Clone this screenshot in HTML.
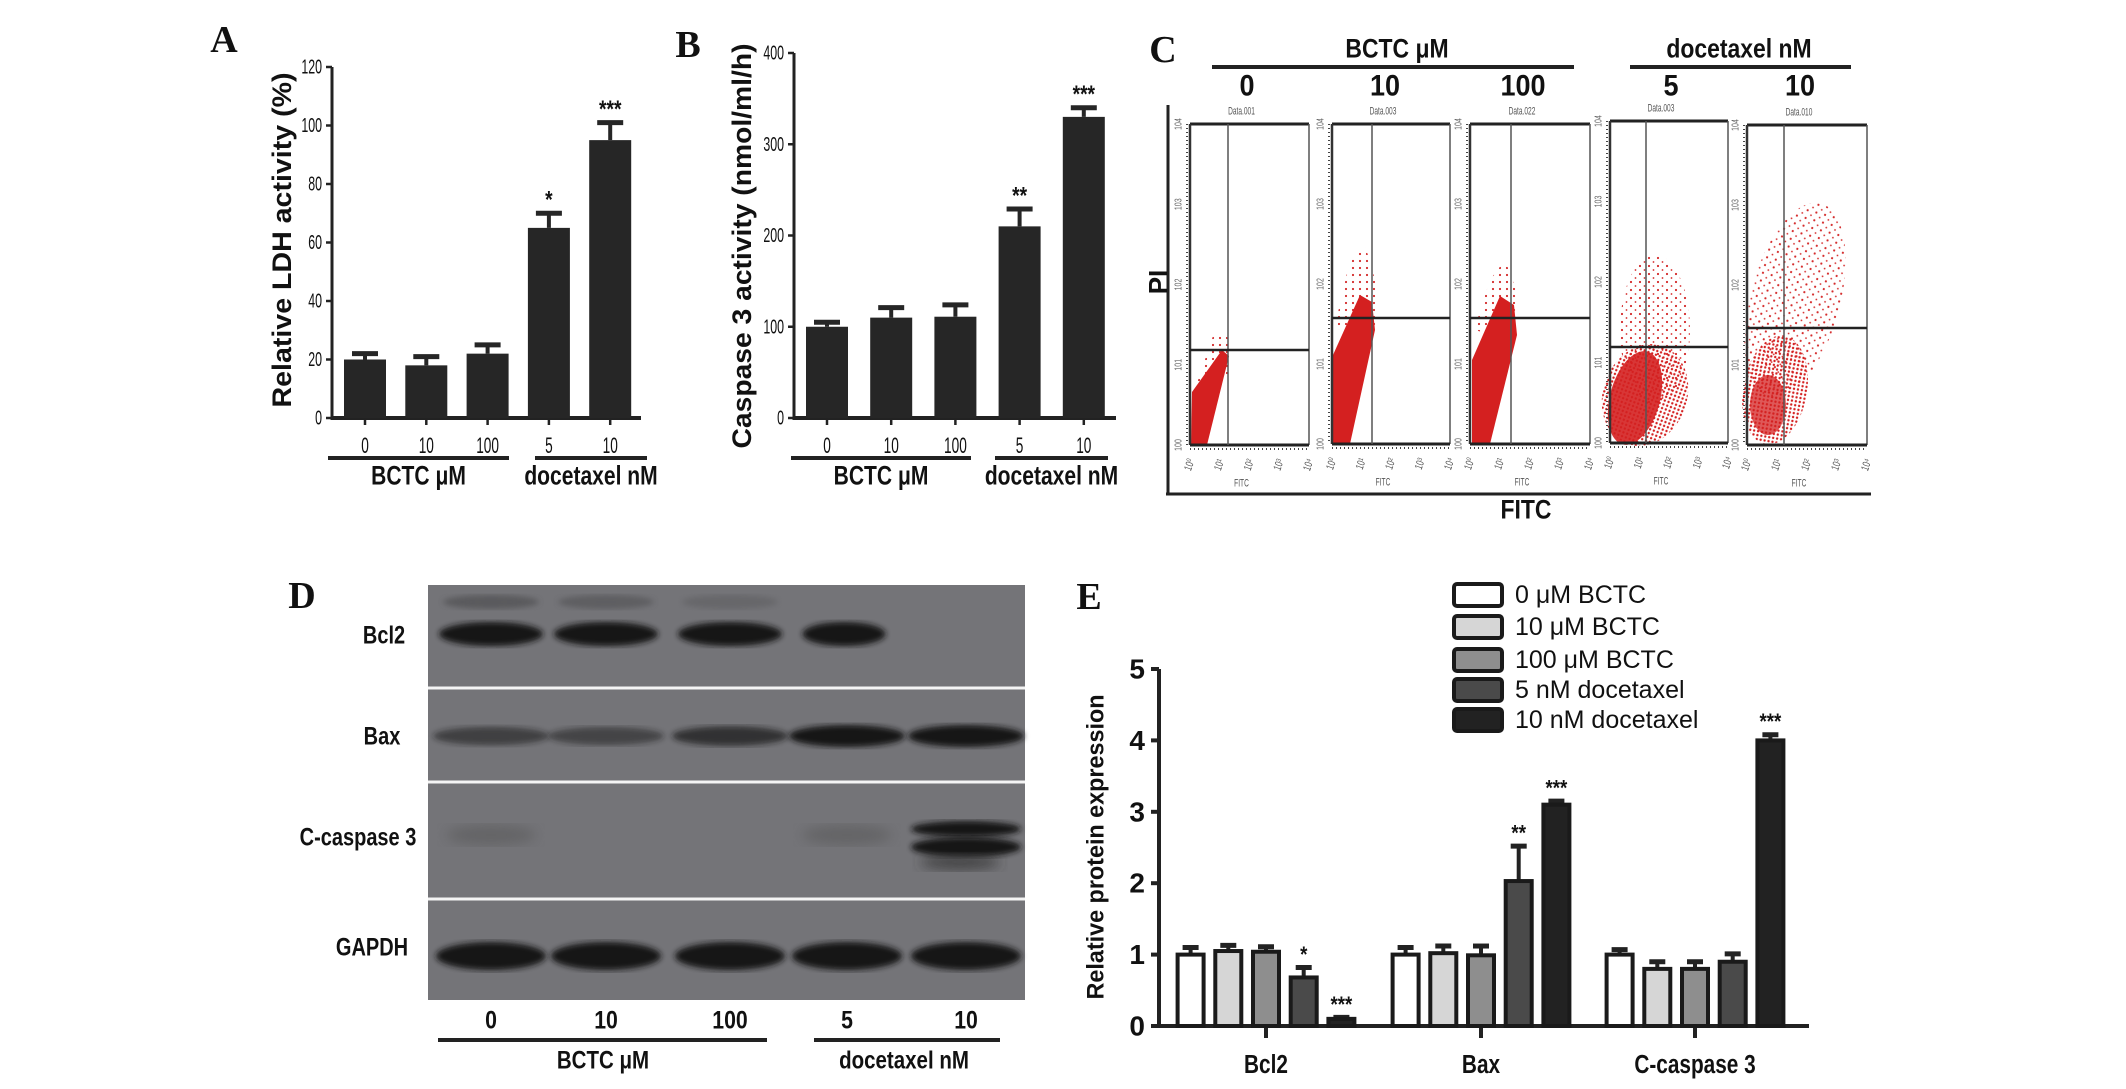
<!DOCTYPE html>
<html><head><meta charset="utf-8">
<style>
html,body{margin:0;padding:0;background:#fff;}
svg{display:block;font-family:"Liberation Sans",sans-serif;}
</style></head>
<body>
<svg id="fig" width="2126" height="1089" viewBox="0 0 2126 1089" xmlns="http://www.w3.org/2000/svg">
<defs>
<pattern id="sparse" width="7" height="7" patternUnits="userSpaceOnUse"><circle cx="2" cy="2" r="1.1" fill="#d42a2a"/></pattern>
<pattern id="sparse2" width="9" height="8" patternUnits="userSpaceOnUse"><circle cx="2" cy="2" r="1.1" fill="#d42a2a"/><circle cx="6.5" cy="6" r="0.9" fill="#d42a2a"/></pattern>
<pattern id="mid" width="4" height="4" patternUnits="userSpaceOnUse"><circle cx="1.5" cy="1.5" r="1.2" fill="#d42020"/></pattern>
<filter id="blur3"><feGaussianBlur stdDeviation="3"/></filter>
<filter id="blur6"><feGaussianBlur stdDeviation="6"/></filter>
</defs>
</svg>
<script>
// ---------- Panel A data ----------
const aCats = ["0","10","100","5","10"];
const aVals = [20,18,22,65,95];
const aErr = [2,3,3,5,6];
const aStars = ["","","","*","***"];
const aTicks = [0,20,40,60,80,100,120];
// ---------- Panel B data ----------
const bCats = ["0","10","100","5","10"];
const bVals = [100,110,111,210,330];
const bErr = [5,11,13,19,10];
const bStars = ["","","","**","***"];
const bTicks = [0,100,200,300,400];
// ---------- Panel E data ----------
const eGroups = ["Bcl2","Bax","C-caspase 3"];
const eSeries = ["0 μM BCTC","10 μM BCTC","100 μM BCTC","5 nM docetaxel","10 nM docetaxel"];
const eBcl2 = [1.0,1.05,1.04,0.68,0.1];
const eBax = [1.0,1.02,0.99,2.03,3.1];
const eCasp = [1.0,0.8,0.8,0.9,4.0];
const eBcl2Err = [0.1,0.08,0.07,0.14,0.02];
const eBaxErr = [0.1,0.1,0.13,0.49,0.05];
const eCaspErr = [0.07,0.1,0.1,0.11,0.08];
const eBcl2Stars = ["","","","*","***"];
const eBaxStars = ["","","","**","***"];
const eCaspStars = ["","","","","***"];
const eTicks = [0,1,2,3,4,5];

const NS="http://www.w3.org/2000/svg";
const svg=document.getElementById('fig');
function mk(tag,attrs,parent){const e=document.createElementNS(NS,tag);for(const k in attrs)e.setAttribute(k,attrs[k]);(parent||svg).appendChild(e);return e;}
function txt(x,y,s,size,opt){opt=opt||{};
  const g=mk('g',{transform:`translate(${x},${y})`+(opt.rot?` rotate(${opt.rot})`:'')+` scale(${opt.sx||1},1)`},opt.parent);
  const t=mk('text',{x:0,y:0,'font-size':size,'font-weight':opt.w||'bold','text-anchor':opt.a||'middle','dominant-baseline':'central',fill:opt.fill||'#111','font-family':opt.serif?'"Liberation Serif",serif':'"Liberation Sans",sans-serif'},g);
  if(opt.len){t.setAttribute('textLength',opt.len);t.setAttribute('lengthAdjust','spacingAndGlyphs');}
  t.textContent=s;return t;}
function line(x1,y1,x2,y2,w,c,p){return mk('line',{x1,y1,x2,y2,stroke:c||'#222','stroke-width':w||3},p);}

function barPanel(cfg){
  const g=mk('g',{});
  
  
  const y=v=>cfg.y0-(v/cfg.max)*(cfg.y0-cfg.yTop);
  const L=txt(cfg.letterX,cfg.letterY,cfg.letter,38,{serif:true,parent:g});
  
  line(cfg.ax,cfg.yTop,cfg.ax,cfg.y0+2,3,'#222',g);
  line(cfg.ax,cfg.y0,cfg.axEnd,cfg.y0,4,'#222',g);
  cfg.ticks.forEach(t=>{line(cfg.ax-6,y(t),cfg.ax,y(t),2.5,'#222',g);
    const tl=txt(cfg.ax-10,y(t),String(t),20,{a:'end',sx:0.62,w:'normal',parent:g});
    });
  const yl=txt(cfg.ylX,cfg.ylY,cfg.ylabel,27,{rot:-90,len:cfg.ylLen,parent:g});
  
  cfg.vals.forEach((v,i)=>{
    const cx=cfg.x0+i*cfg.step, bw=42;
    const r=mk('rect',{x:cx-bw/2,y:y(v),width:bw,height:cfg.y0-y(v),fill:'#262626'},g);
    
    const et=y(v+cfg.err[i]);
    line(cx,y(v),cx,et,4,'#262626',g);line(cx-13,et,cx+13,et,5,'#262626',g);
    if(cfg.stars[i]){const s=txt(cx,et-14,cfg.stars[i],24,{sx:0.8,parent:g});}
    line(cx,cfg.y0,cx,cfg.y0+7,2.5,'#222',g);
    const c=txt(cx,cfg.y0+27,cfg.cats[i],22,{sx:0.62,w:'normal',parent:g});
    
  });
  line(cfg.g1[0],cfg.lineY,cfg.g1[1],cfg.lineY,4,'#222',g);
  line(cfg.g2[0],cfg.lineY,cfg.g2[1],cfg.lineY,4,'#222',g);
  const g1=txt((cfg.g1[0]+cfg.g1[1])/2,cfg.lineY+18,'BCTC μM',27,{sx:0.78,parent:g});
  
  const g2=txt((cfg.g2[0]+cfg.g2[1])/2,cfg.lineY+18,'docetaxel nM',27,{sx:0.78,parent:g});
  
}
barPanel({name:'panel-a-ldh-chart',letter:'A',letterX:224,letterY:40,ax:332,yTop:67,y0:418,axEnd:641,max:120,ticks:aTicks,
  vals:aVals,err:aErr,stars:aStars,cats:aCats,x0:365,step:61.3,ylabel:'Relative LDH activity (%)',ylX:282,ylY:240,ylLen:335,
  g1:[328,509],g2:[535,647],lineY:458});
barPanel({name:'panel-b-caspase-chart',letter:'B',letterX:688,letterY:45,ax:794,yTop:53,y0:418,axEnd:1116,max:400,ticks:bTicks,
  vals:bVals,err:bErr,stars:bStars,cats:bCats,x0:827,step:64.2,ylabel:'Caspase 3 activity (nmol/ml/h)',ylX:742,ylY:246,ylLen:405,
  g1:[791,971],g2:[995,1108],lineY:458});

(function(){
  const g=mk('g',{});
  
  
  const L=txt(1163,50,'C',38,{serif:true,parent:g});
  const t1=txt(1397,49,'BCTC μM',27,{sx:0.85,parent:g});
  const t2=txt(1739,49,'docetaxel nM',27,{sx:0.85,parent:g});
  line(1212,67,1574,67,4,'#222',g);line(1630,67,1851,67,4,'#222',g);
  const nums=['0','10','100','5','10'], nx=[1247,1385,1523,1671,1800];
  nums.forEach((n,i)=>{const e=txt(nx[i],86,n,30,{sx:0.9,parent:g});});
  line(1168,105,1168,495,3,'#222',g);line(1166,494,1871,494,3,'#222',g);
  const pi=txt(1158,282,'PI',26,{rot:-90,parent:g});
  const fi=txt(1526,510,'FITC',27,{sx:0.85,parent:g});
  const plots=[
    {x:1190,r:1309,t:124,b:445,gx:1228,gy:350,d:'Data.001'},
    {x:1332,r:1450,t:124,b:444,gx:1372,gy:318,d:'Data.003'},
    {x:1470,r:1590,t:124,b:444,gx:1511,gy:318,d:'Data.022'},
    {x:1610,r:1728,t:121,b:443,gx:1646,gy:347,d:'Data.003'},
    {x:1747,r:1867,t:125,b:445,gx:1784,gy:328,d:'Data.010'}];
  const clouds=[
    ()=>{mk('polygon',{points:'1193,395 1215,330 1232,340 1230,370 1212,400',fill:'url(#sparse)'},g);
         mk('polygon',{points:'1191,445 1207,445 1229,356 1222,350 1192,392',fill:'#d42020'},g);},
    ()=>{mk('polygon',{points:'1334,330 1350,260 1365,245 1378,290 1378,330',fill:'url(#sparse)'},g);
         mk('polygon',{points:'1333,444 1350,444 1375,330 1372,302 1360,295 1333,355',fill:'#d42020'},g);},
    ()=>{mk('polygon',{points:'1474,330 1490,280 1505,260 1520,300 1516,340',fill:'url(#sparse)'},g);
         mk('polygon',{points:'1472,444 1490,444 1517,335 1514,305 1500,296 1472,360',fill:'#d42020'},g);},
    ()=>{mk('ellipse',{cx:1655,cy:330,rx:35,ry:75,fill:'url(#sparse2)'},g);
         mk('ellipse',{cx:1645,cy:395,rx:42,ry:52,fill:'url(#mid)',transform:'rotate(20 1645 395)'},g);
         mk('ellipse',{cx:1635,cy:398,rx:25,ry:48,fill:'#d42020',opacity:0.9,transform:'rotate(15 1635 398)'},g);},
    ()=>{mk('ellipse',{cx:1795,cy:300,rx:45,ry:100,fill:'url(#sparse2)',transform:'rotate(15 1795 300)'},g);
         mk('ellipse',{cx:1775,cy:390,rx:32,ry:55,fill:'url(#mid)',transform:'rotate(10 1775 390)'},g);
         mk('ellipse',{cx:1768,cy:405,rx:18,ry:30,fill:'#d42020',opacity:0.75},g);}];
  plots.forEach((p,i)=>{
    const pg=mk('g',{},g);
    
    
    clouds[i]();
    line(p.x,p.t,p.r,p.t,3,'#222',g);line(p.r,p.t,p.r,p.b,1.5,'#555',g);
    line(p.x,p.t,p.x,p.b,2.5,'#333',g);line(p.x,p.b,p.r,p.b,3,'#222',g);
    line(p.gx,p.t,p.gx,p.b,1.5,'#555',g);line(p.x,p.gy,p.r,p.gy,2.5,'#222',g);
    mk('line',{x1:p.x-3,y1:p.t,x2:p.x-3,y2:p.b,stroke:'#444','stroke-width':2,'stroke-dasharray':'1 3'},g);
    mk('line',{x1:p.x,y1:p.b+4,x2:p.r,y2:p.b+4,stroke:'#444','stroke-width':2,'stroke-dasharray':'1 3'},g);
    txt((p.x+p.r)/2-8,p.t-13,p.d,11,{sx:0.6,w:'normal',fill:'#555',parent:g});
    ['10⁰','10¹','10²','10³','10⁴'].forEach((s,k)=>txt(p.x+k*(p.r-p.x)/4,p.b+20,s,11,{sx:0.7,w:'normal',fill:'#555',rot:-70,parent:g}));
    txt((p.x+p.r)/2-8,p.b+38,'FITC',11,{sx:0.6,w:'normal',fill:'#555',parent:g});
    [0,1,2,3,4].forEach(k=>txt(p.x-12,p.b-k*(p.b-p.t)/4,'10'+k,10,{sx:0.7,w:'normal',fill:'#666',rot:-90,parent:g}));
  });
})();

(function(){
  const g=mk('g',{});
  
  
  const L=txt(302,596,'D',38,{serif:true,parent:g});
  mk('rect',{x:428,y:585,width:597,height:415,fill:'#747478'},g);
  [688,782,899].forEach(y=>line(428,y,1025,y,3,'#f4f4f4',g));
  const lanes=[491,606,730,847,966];
  const dark='#161616';
  [491,606,730].forEach((x,i)=>mk('ellipse',{cx:x,cy:602,rx:48,ry:7,fill:'#4a4a4c',opacity:[0.6,0.5,0.3][i],filter:'url(#blur3)'},g));
  const bcl=[1,1,1,0.8,0];
  lanes.forEach((x,i)=>{if(bcl[i]>0)mk('ellipse',{cx:x+(i==3?-3:0),cy:634,rx:bcl[i]*52,ry:12,fill:dark,filter:'url(#blur3)'},g);});
  const bax=[0.55,0.5,0.7,1,1];
  lanes.forEach((x,i)=>mk('ellipse',{cx:x,cy:736,rx:58,ry:7+bax[i]*4,fill:dark,opacity:bax[i],filter:'url(#blur3)'},g));
  [491,847].forEach(x=>mk('ellipse',{cx:x,cy:835,rx:45,ry:10,fill:'#555',opacity:0.5,filter:'url(#blur6)'},g));
  mk('ellipse',{cx:966,cy:829,rx:55,ry:8,fill:dark,filter:'url(#blur3)'},g);
  mk('ellipse',{cx:966,cy:847,rx:55,ry:10,fill:dark,filter:'url(#blur3)'},g);
  mk('ellipse',{cx:960,cy:862,rx:40,ry:8,fill:'#333',opacity:0.7,filter:'url(#blur6)'},g);
  lanes.forEach(x=>mk('ellipse',{cx:x,cy:956,rx:55,ry:14,fill:dark,filter:'url(#blur3)'},g));
  const labs=[['Bcl2',384,635],['Bax',382,736],['C-caspase 3',358,837],['GAPDH',372,947]];
  labs.forEach(l=>{const e=txt(l[1],l[2],l[0],25,{sx:0.8,parent:g});});
  ['0','10','100','5','10'].forEach((n,i)=>{const e=txt(lanes[i],1020,n,25,{sx:0.85,parent:g});});
  line(438,1040,767,1040,4,'#222',g);line(814,1040,1000,1040,4,'#222',g);
  const g1=txt(603,1060,'BCTC μM',25,{sx:0.82,parent:g});
  const g2=txt(904,1060,'docetaxel nM',25,{sx:0.82,parent:g});
})();

(function(){
  const g=mk('g',{});
  
  
  const L=txt(1089,597,'E',38,{serif:true,parent:g});
  const ax=1159,y0=1026,yTop=669,max=5;
  const y=v=>y0-(v/max)*(y0-yTop);
  const fills=['#ffffff','#d6d6d6','#8e8e8e','#4a4a4a','#222222'];
  line(ax,yTop,ax,y0+2,4,'#222',g);line(ax,y0,1809,y0,4,'#222',g);
  eTicks.forEach(t=>{line(ax-8,y(t),ax,y(t),4,'#222',g);
    const e=txt(ax-14,y(t),String(t),28,{a:'end',parent:g});});
  const yl=txt(1096,847,'Relative protein expression',24,{rot:-90,len:305,parent:g});
  
  const vals=[eBcl2,eBax,eCasp], errs=[eBcl2Err,eBaxErr,eCaspErr], stars=[eBcl2Stars,eBaxStars,eCaspStars];
  const gx=[1266,1481,1695], step=37.7, bw=26;
  eGroups.forEach((name,gi)=>{
    line(gx[gi],y0,gx[gi],y0+12,4,'#222',g);
    const c=txt(gx[gi],1064,name,26,{sx:0.8,parent:g});
    vals[gi].forEach((v,i)=>{
      const cx=gx[gi]+(i-2)*step;
      const et=y(v+errs[gi][i]);
      line(cx,y(v),cx,et,4,'#222',g);line(cx-8,et,cx+8,et,5,'#222',g);
      const r=mk('rect',{x:cx-bw/2,y:y(v),width:bw,height:y0-y(v),fill:fills[i],stroke:'#1a1a1a','stroke-width':4},g);
      
      
      if(stars[gi][i]){const s=txt(cx,et-12,stars[gi][i],22,{sx:0.85,parent:g});}
    });
  });
  const ly=[595,627,660,690,720];
  eSeries.forEach((s,i)=>{
    const lg=mk('g',{},g);
    
    
    mk('rect',{x:1454,y:ly[i]-11,width:48,height:22,rx:3,fill:fills[i],stroke:'#1a1a1a','stroke-width':4},lg);
    txt(1515,ly[i],s,25,{a:'start',w:'normal',parent:lg});
  });
})();
</script>
</body></html>
